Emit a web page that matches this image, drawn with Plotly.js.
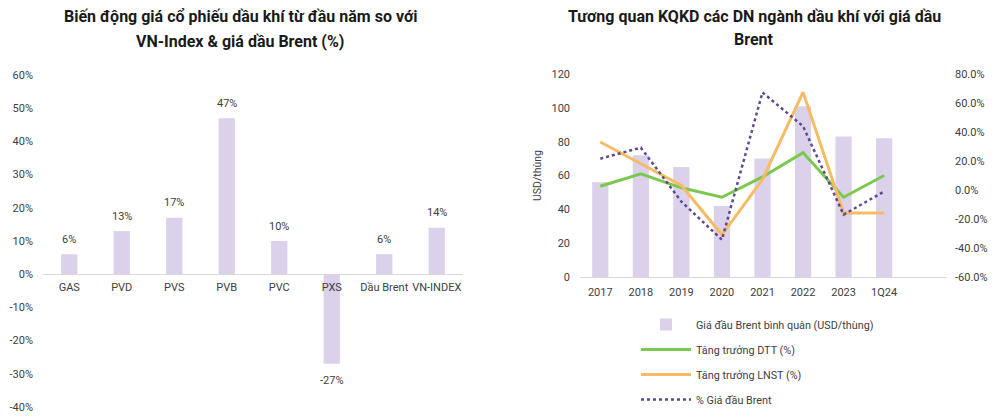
<!DOCTYPE html>
<html>
<head>
<meta charset="utf-8">
<script src="https://cdn.plot.ly/plotly-3.0.1.min.js"></script>
<style>
html,body{margin:0;padding:0;background:#fff;}
#chart{width:1000px;height:417px;}
</style>
</head>
<body>
<div id="chart"></div>
<script>
// ---- Left chart data ----
const stockCats = ["GAS", "PVD", "PVS", "PVB", "PVC", "PXS", "Dầu Brent", "VN-INDEX"];
const stockChange = [0.06, 0.13, 0.17, 0.47, 0.10, -0.27, 0.06, 0.14];
const leftTickVals = [-0.4, -0.3, -0.2, -0.1, 0, 0.1, 0.2, 0.3, 0.4, 0.5, 0.6];
const leftTickText = ["-40%", "-30%", "-20%", "-10%", "0%", "10%", "20%", "30%", "40%", "50%", "60%"];

// ---- Right chart data ----
const years = ["2017", "2018", "2019", "2020", "2021", "2022", "2023", "1Q24"];
const brentPrice = [56, 72, 65, 42, 70, 101, 83, 82];
const revenueGrowth = [0.026, 0.112, 0.015, -0.05, 0.09, 0.257, -0.05, 0.10];
const profitGrowth = [0.331, 0.181, 0.031, -0.309, 0.072, 0.675, -0.159, -0.159];
const brentChange = [0.216, 0.292, -0.08, -0.343, 0.673, 0.44, -0.17, -0.01];
const priceTickVals = [0, 20, 40, 60, 80, 100, 120];
const pctTickVals = [-0.6, -0.4, -0.2, 0, 0.2, 0.4, 0.6, 0.8];
const pctTickText = ["-60.0%", "-40.0%", "-20.0%", "0.0%", "20.0%", "40.0%", "60.0%", "80.0%"];

const FONT = "Roboto, 'Noto Sans', sans-serif";
const TXT = "#404040";
const BAR = "#dcd1ea";

const H = 417, W = 1000;
const py = p => 1 - p / H;
const px = p => p / W;

const leftYDomain = [py(407), py(75)];
const leftYRange = [-0.4, 0.6];
const zeroPos = leftYDomain[0] + (0 - leftYRange[0]) / (leftYRange[1] - leftYRange[0]) * (leftYDomain[1] - leftYDomain[0]);

const traces = [
  {
    type: "bar", x: stockCats, y: stockChange, xaxis: "x", yaxis: "y",
    width: 0.31, marker: {color: BAR},
    showlegend: false, hoverinfo: "x+y"
  },
  {
    type: "bar", x: years, y: brentPrice, xaxis: "x2", yaxis: "y2",
    width: 0.4, marker: {color: BAR},
    name: "Giá đầu Brent bình quân (USD/thùng)", legendgroup: "a"
  },
  {
    type: "scatter", mode: "lines", x: years, y: revenueGrowth, xaxis: "x2", yaxis: "y3",
    line: {color: "#7cc84e", width: 3}, name: "Tăng trưởng DTT (%)", legendgroup: "b"
  },
  {
    type: "scatter", mode: "lines", x: years, y: profitGrowth, xaxis: "x2", yaxis: "y3",
    line: {color: "#f6bb63", width: 3}, name: "Tăng trưởng LNST (%)", legendgroup: "c"
  },
  {
    type: "scatter", mode: "lines", x: years, y: brentChange, xaxis: "x2", yaxis: "y3",
    line: {color: "#5e4a91", width: 2.5, dash: "dot"}, name: "% Giá đầu Brent", legendgroup: "d"
  }
];

const tickFont = {family: FONT, size: 11, color: TXT};
const titleFont = {family: FONT, size: 16, color: "#1a1a1a"};

// data labels on the left bars, placed via the axes
const valueLabels = stockCats.map((c, i) => ({
  text: Math.round(stockChange[i] * 100) + "%",
  x: c, y: stockChange[i], xref: "x", yref: "y",
  yanchor: "middle", xanchor: "center",
  yshift: stockChange[i] >= 0 ? 15 : -17,
  showarrow: false, font: {family: FONT, size: 11, color: TXT}
}));

const layout = {
  width: W, height: H,
  margin: {l: 0, r: 0, t: 0, b: 0},
  paper_bgcolor: "#fff", plot_bgcolor: "rgba(0,0,0,0)",
  font: {family: FONT, color: TXT},
  showlegend: true,
  xaxis: {
    domain: [px(43), px(463)], anchor: "free", position: zeroPos,
    type: "category", showline: true, linecolor: "#d9d9d9", linewidth: 1,
    ticks: "", showgrid: false, zeroline: false, tickfont: tickFont,
    ticklabelstandoff: 3, fixedrange: true
  },
  yaxis: {
    domain: leftYDomain, anchor: "x", range: leftYRange,
    tickvals: leftTickVals, ticktext: leftTickText,
    showgrid: false, zeroline: false, showline: false, ticks: "",
    tickfont: tickFont, ticklabelstandoff: 9, fixedrange: true
  },
  xaxis2: {
    domain: [px(580), px(947)], anchor: "y2", type: "category",
    range: [-0.5, 8.55], showline: true, linecolor: "#d9d9d9", linewidth: 1,
    ticks: "", showgrid: false, zeroline: false, tickfont: tickFont,
    ticklabelstandoff: 5, fixedrange: true
  },
  yaxis2: {
    domain: [py(277), py(74)], anchor: "x2", range: [0, 120],
    tickvals: priceTickVals, showgrid: false, zeroline: false, showline: false,
    ticks: "", tickfont: tickFont, ticklabelstandoff: 9,
    title: {text: "USD/thùng", font: {family: FONT, size: 10.5, color: TXT}, standoff: 7},
    fixedrange: true
  },
  yaxis3: {
    overlaying: "y2", side: "right", anchor: "x2", range: [-0.6, 0.8],
    tickvals: pctTickVals, ticktext: pctTickText,
    showgrid: false, zeroline: false, showline: false, ticks: "",
    tickfont: tickFont, ticklabelstandoff: 7, fixedrange: true
  },
  legend: {
    x: px(636), y: py(310), xanchor: "left", yanchor: "top",
    orientation: "v", traceorder: "grouped", tracegroupgap: 6,
    itemwidth: 50, font: {family: FONT, size: 10.8, color: TXT},
    bgcolor: "rgba(0,0,0,0)"
  },
  annotations: valueLabels.concat([
    {text: "<b>Biến động giá cổ phiếu dầu khí từ đầu năm so với</b>", x: px(240), y: py(17), xref: "paper", yref: "paper", xanchor: "center", yanchor: "middle", showarrow: false, font: titleFont},
    {text: "<b>VN-Index & giá dầu Brent (%)</b>", x: px(240), y: py(41), xref: "paper", yref: "paper", xanchor: "center", yanchor: "middle", showarrow: false, font: titleFont},
    {text: "<b>Tương quan KQKD các DN ngành dầu khí với giá dầu</b>", x: px(754), y: py(17), xref: "paper", yref: "paper", xanchor: "center", yanchor: "middle", showarrow: false, font: titleFont},
    {text: "<b>Brent</b>", x: px(754), y: py(40), xref: "paper", yref: "paper", xanchor: "center", yanchor: "middle", showarrow: false, font: titleFont}
  ])
};

Plotly.newPlot("chart", traces, layout, {displayModeBar: false, staticPlot: true});
</script>
</body>
</html>
